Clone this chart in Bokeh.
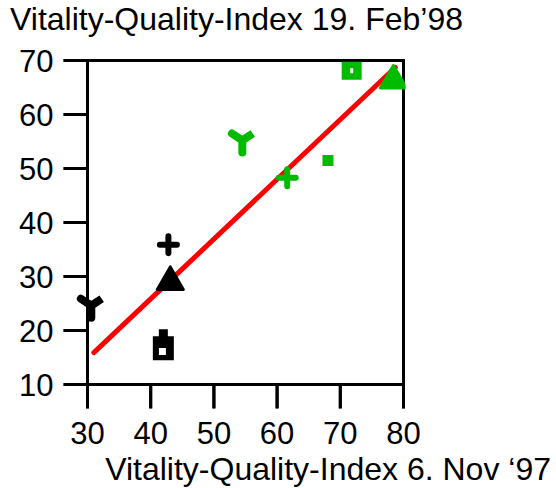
import math
from bokeh.plotting import figure
from bokeh.models import Range1d, FixedTicker, Div
from bokeh.layouts import column
from bokeh.embed import file_html
from bokeh.resources import INLINE

title_text = "Vitality-Quality-Index 19. Feb\u201998"
xlabel_text = "Vitality-Quality-Index 6. Nov \u201897"
x_ticks = [30, 40, 50, 60, 70, 80]
y_ticks = [10, 20, 30, 40, 50, 60, 70]

BLACK = "#000000"
GREEN = "#00BB00"

# "Y" markers (black: Nov '97 group, green: Feb '98 group)
ym_x = [30.6, 54.5]
ym_y = [24.6, 55.2]
ym_c = [BLACK, GREEN]
# plus markers
pl_x = [42.8, 61.6]
pl_y = [35.9, 48.3]
pl_c = [BLACK, GREEN]
# triangle markers
tr_x = [43.1, 78.4]
tr_y = [29.0, 66.3]
tr_c = [BLACK, GREEN]
# bottle-shaped box (black)
bb_x = [42.0]
bb_y = [16.7]
# hollow box (green)
hb_x = [71.8]
hb_y = [68.1]
# small filled square (green)
sq_x = [68.05]
sq_y = [51.5]
# regression line
fit_x = [31.0, 78.7]
fit_y = [15.9, 68.7]

FONT = "Liberation Sans"

# geometry: pixels per data unit, tick length, frame padding
PXU_X = 6.32
PXU_Y = 5.4
TICK = 24
PAD = 2
X0, X1 = x_ticks[0], x_ticks[-1]
Y0, Y1 = y_ticks[0], y_ticks[-1]
x_lo = X0 - TICK / PXU_X
x_hi = X1 + PAD / PXU_X
y_lo = Y0 - TICK / PXU_Y
y_hi = Y1 + PAD / PXU_Y

FW = round((x_hi - x_lo) * PXU_X)
FH = round((y_hi - y_lo) * PXU_Y)
W, H = 554, 422
BL, BT = 63, 20

p = figure(width=W, height=H, output_backend="svg", toolbar_location=None,
           x_range=Range1d(x_lo, x_hi), y_range=Range1d(y_lo, y_hi),
           min_border_left=BL, min_border_right=W - BL - FW,
           min_border_top=BT, min_border_bottom=H - BT - FH,
           margin=(0, 0, 0, 0))
p.xgrid.visible = False
p.ygrid.visible = False
p.outline_line_color = None

for ax, ticks in ((p.xaxis, x_ticks), (p.yaxis, y_ticks)):
    ax.ticker = FixedTicker(ticks=ticks)
    ax.axis_line_color = None
    ax.major_tick_line_color = None
    ax.minor_tick_line_color = None
    ax.major_tick_out = 0
    ax.major_tick_in = 0
    ax.major_label_text_font = FONT
    ax.major_label_text_font_size = "31px"
    ax.major_label_text_color = BLACK
p.xaxis.major_label_standoff = 13
p.yaxis.major_label_standoff = 10

# tick marks at the tick values: filled bars plus dash markers at the same place
ytick_mid_x = [X0 - (TICK / 2) / PXU_X] * len(y_ticks)
xtick_mid_y = [Y0 - (TICK / 2) / PXU_Y] * len(x_ticks)
p.rect(x=ytick_mid_x, y=list(y_ticks),
       width=TICK + 1, height=3, width_units="screen", height_units="screen",
       fill_color=BLACK, line_color=None)
p.rect(x=list(x_ticks), y=xtick_mid_y,
       width=3, height=TICK + 1, width_units="screen", height_units="screen",
       fill_color=BLACK, line_color=None)
p.scatter(x=ytick_mid_x, y=list(y_ticks), marker="dash", size=TICK,
          line_color=BLACK, line_width=3)
p.scatter(x=list(x_ticks), y=xtick_mid_y, marker="dash", size=TICK, angle=math.pi / 2,
          line_color=BLACK, line_width=3)
# box: axes and top / right borders
p.segment(x0=[X0, X0, X0, X1], y0=[Y0, Y1, Y0, Y0], x1=[X1, X1, X0, X1], y1=[Y0, Y1, Y1, Y1],
          line_color=BLACK, line_width=3, line_cap="square")

# regression line
p.line(fit_x, fit_y, line_color="#FF0000", line_width=5, line_cap="round")

# Y markers
p.scatter(ym_x, ym_y, marker="y", size=24, line_color=ym_c, line_width=8, line_cap="round")
# plus markers
p.scatter(pl_x, pl_y, marker="cross", size=17, line_color=pl_c, line_width=6, line_cap="round")
# triangles
p.scatter(tr_x, tr_y, marker="triangle", size=26, fill_color=tr_c, line_color=tr_c,
          line_width=3, line_join="round")
# bottle box
p.rect(bb_x, bb_y, width=21, height=24, width_units="screen", height_units="screen",
       fill_color=BLACK, line_color=None)
p.rect(x=bb_x[0], y=bb_y[0] + 2.8, width=9, height=8, width_units="screen", height_units="screen",
       fill_color=BLACK, line_color=None)
p.rect(x=bb_x[0] - 0.15, y=bb_y[0] - 0.6, width=7, height=7, width_units="screen", height_units="screen",
       fill_color="white", line_color=None)
# green hollow box
p.rect(hb_x, hb_y, width=20, height=18, width_units="screen", height_units="screen",
       fill_color=GREEN, line_color=None)
p.rect(hb_x, hb_y, width=3, height=5, width_units="screen", height_units="screen",
       fill_color="white", line_color=None)
# small square
p.rect(sq_x, sq_y, width=11, height=11, width_units="screen", height_units="screen",
       fill_color=GREEN, line_color=None)

text_css = {"font-family": "'Liberation Sans', Arial, sans-serif", "font-size": "32px",
            "color": "black", "white-space": "nowrap"}

title_div = Div(text=title_text, width=540, height=38, margin=(0, 0, 0, 10),
                styles=dict(text_css, **{"line-height": "38px"}))
xlabel_div = Div(text=xlabel_text, width=551, height=34, margin=(-8, 0, 0, 0),
                 styles=dict(text_css, **{"line-height": "34px", "text-align": "right"}))

layout = column(title_div, p, xlabel_div, spacing=0, margin=(0, 0, 0, 0))

open("out.html", "w").write(file_html(layout, INLINE))
